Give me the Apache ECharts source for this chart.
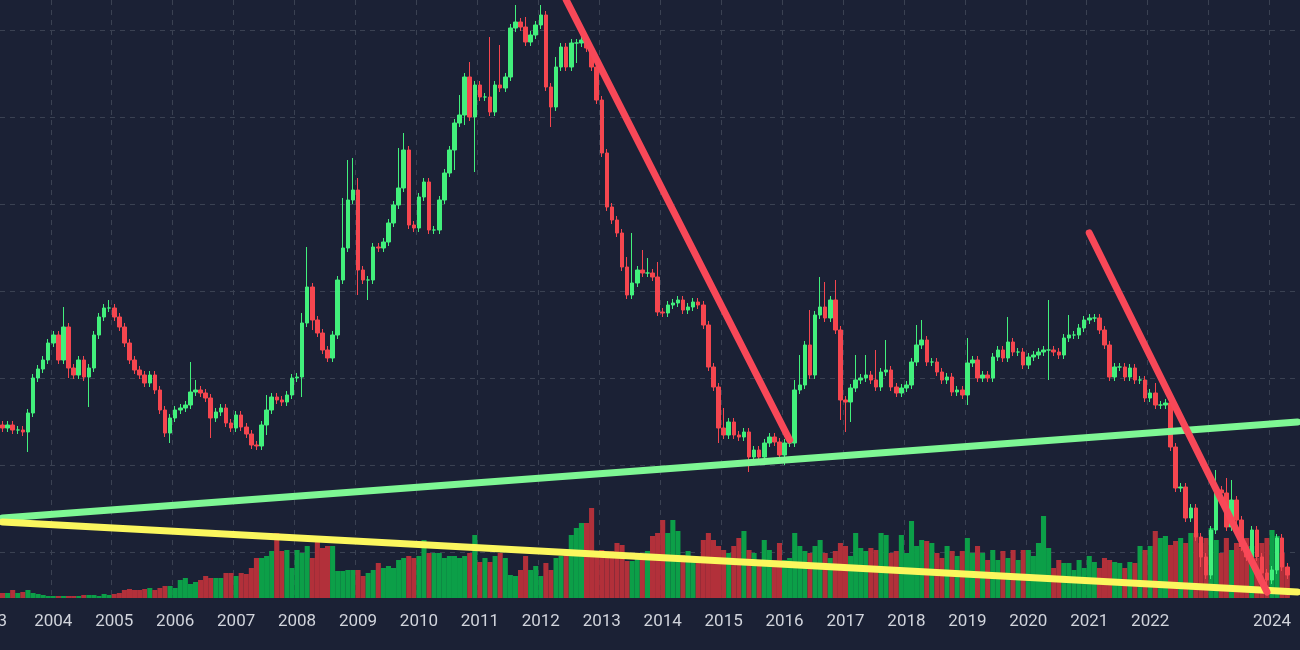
<!DOCTYPE html>
<html><head><meta charset="utf-8">
<script src="https://cdn.jsdelivr.net/npm/echarts@6/dist/echarts.min.js"></script>
<style>html,body{margin:0;padding:0;background:#1c2133;}#c{width:1300px;height:650px;}</style>
</head><body><div id="c"></div>
<script>
// monthly closes (price units), from 2003-03
const closes = [211,214,209,209,207,226,261,270,279,296,
304,279,312,271,264,279,262,271,304,322,
331,331,322,312,296,279,269,264,256,264,
249,229,206,221,229,231,234,247,249,246,
241,221,227,231,216,211,224,212,205,194,
193,214,229,242,239,237,244,261,262,316,
352,319,306,289,281,304,359,391,439,449,
369,359,359,392,391,397,416,434,451,489,
414,411,442,457,409,409,439,466,489,516,
524,562,522,554,542,542,527,554,551,562,
611,617,612,597,604,614,624,552,532,572,
592,572,596,596,599,591,572,539,486,432,
419,406,372,344,356,369,366,366,362,327,
326,334,336,339,329,332,337,334,314,272,
252,211,204,217,204,202,207,182,189,182,
196,202,197,184,196,196,249,254,294,264,
324,332,321,339,309,239,237,251,259,261,
264,259,252,267,269,252,246,251,254,277,
294,299,277,277,267,259,262,247,249,244,
276,279,261,264,261,282,289,281,297,287,
287,274,282,284,287,289,289,287,284,301,
304,304,311,319,321,321,309,294,262,272,
272,262,271,259,259,241,246,234,234,236,
192,151,152,121,131,102,82,64,109,149,
146,112,139,119,92,82,109,82,66,59,
69,101,72,64];
// wick lengths beyond the body (default 4)
const upWick = {12:20,21:8,37:30,38:10,52:15,59:10,60:40,67:50,68:40,69:32,70:12,78:40,79:17,90:20,92:15,96:60,98:40,101:17,103:10,106:10,109:10,123:10,124:50,126:20,127:15,129:15,142:20,156:10,157:30,159:35,161:30,162:25,164:20,168:25,170:20,172:30,174:30,180:20,181:20,190:25,198:25,206:50,210:20,227:10,239:20,241:15,242:20};
const dnWick = {5:20,13:10,17:30,33:10,41:20,52:10,59:20,61:10,70:25,72:20,89:20,91:10,93:55,108:20,113:20,141:15,147:15,154:10,165:20,166:30,167:20,190:10,206:30,236:10,249:10};
const volumes = [5,5,8,5,6,8,5,4,3,2,
2,2,2,2,2,2,3,3,3,2,
4,3,4,5,8,9,8,8,9,10,
8,10,12,12,10,18,20,14,16,18,
22,20,20,20,25,25,22,25,24,30,
40,40,42,47,65,47,48,30,48,45,
52,40,57,50,52,52,27,27,28,28,
28,22,25,28,35,30,32,30,38,40,
42,40,42,58,45,45,45,40,42,42,
40,42,45,63,36,40,36,42,45,40,
23,22,28,42,28,32,22,35,28,40,
42,48,63,70,75,75,90,45,48,47,
47,55,53,37,37,40,40,47,62,65,
78,65,78,67,43,47,40,37,58,65,
58,52,48,45,52,60,67,48,45,38,
58,48,38,55,38,40,65,52,47,45,
52,58,45,40,47,55,52,42,65,50,
47,50,48,65,63,45,47,63,45,77,
52,58,57,55,45,40,52,47,42,47,
60,45,52,45,38,48,38,47,40,48,
38,48,48,42,55,82,50,30,38,35,
35,28,38,30,42,36,30,40,38,36,
35,30,36,35,52,48,52,67,60,62,
53,57,60,55,65,65,55,60,70,58,
45,60,48,55,50,60,52,40,55,60,
68,62,45,30];
const greenLine = [[0,121],[255,217]];
const yellowLine = [[0,117],[255,47]];
const redLine1 = [[111,639],[155,199]];
const redLine2 = [[214,406],[249,47]];

const months = [];
for (let i = 0; i < 256; i++) {
  const m = 2 + i; const y = 2003 + Math.floor(m / 12); const mm = (m % 12) + 1;
  months.push(y + '-' + String(mm).padStart(2, '0'));
}
const candles = closes.map((c, i) => {
  const o = i === 0 ? 214 : closes[i - 1];
  const hi = Math.max(o, c) + (upWick[i] !== undefined ? upWick[i] : 4);
  const lo = Math.min(o, c) - (dnWick[i] !== undefined ? dnWick[i] : 4);
  return [o, c, lo, hi];
});
const UP = '#42f07c', DN = '#f5464f';
const volData = volumes.map((v, i) => ({value: v, itemStyle: {color: candles[i][1] >= candles[i][0] ? '#0c9f48' : '#b2303a'}}));
const isJan = (idx, val) => val.slice(5) === '01';
const chart = echarts.init(document.getElementById('c'));
const lineS = (data, color) => ({type: 'line', xAxisIndex: 0, yAxisIndex: 0, data, symbol: 'none', clip: false, z: 10, silent: true,
  lineStyle: {color, width: 7, cap: 'round'}});
chart.setOption({
  backgroundColor: '#1b2135',
  animation: false,
  grid: [{left: 0, right: 0, top: 30, bottom: 98}, {left: 0, right: 0, top: 0, bottom: 52}],
  xAxis: [
    {type: 'category', gridIndex: 0, data: months, show: false},
    {type: 'category', gridIndex: 1, data: months, axisLine: {show: false}, axisTick: {show: false},
      axisLabel: {interval: (idx, val) => isJan(idx, val) && val.slice(0, 4) !== '2023', formatter: v => v.slice(0, 4),
        color: '#d1d4dc', fontSize: 17, fontFamily: 'Roboto', margin: 15},
      splitLine: {show: true, interval: isJan, lineStyle: {color: '#3a4152', type: [5, 5]}}}
  ],
  yAxis: [
    {type: 'value', gridIndex: 0, min: 87, max: 609, interval: 87, show: true, axisLabel: {show: false}, axisLine: {show: false}, axisTick: {show: false},
      splitLine: {lineStyle: {color: '#3a4152', type: [5, 5]}}},
    {type: 'value', gridIndex: 1, min: 0, max: 598, show: false, splitLine: {show: false}}
  ],
  graphic: [{type: 'text', x: -12, y: 613, style: {text: '2003', fill: '#d1d4dc', font: '17px Roboto', align: 'center'}}],
  series: [
    {type: 'bar', xAxisIndex: 1, yAxisIndex: 1, data: volData, barCategoryGap: '0%', z: 1, silent: true},
    {type: 'candlestick', xAxisIndex: 0, yAxisIndex: 0, data: candles, clip: false, z: 5, barWidth: 4,
      itemStyle: {color: UP, color0: DN, borderColor: UP, borderColor0: DN, borderWidth: 1}},
    lineS(greenLine, '#7ef794'),
    lineS(yellowLine, '#fbf75e'),
    lineS(redLine1, '#f84858'),
    lineS(redLine2, '#f84858')
  ]
});
</script></body></html>
